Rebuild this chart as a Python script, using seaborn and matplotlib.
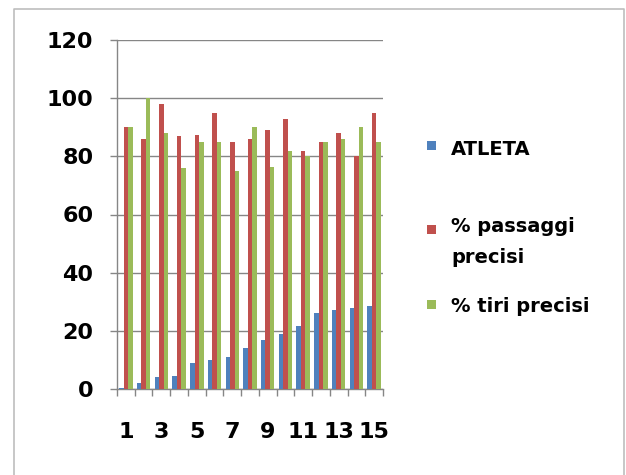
import matplotlib
matplotlib.use("Agg")
import matplotlib.pyplot as plt
import seaborn as sns
import pandas as pd
import numpy as np

categories = list(range(1, 16))
atleta = [0.5, 2, 4, 4.5, 9, 10, 11, 14, 17, 19, 21.6, 26, 27, 28, 28.6]
passaggi = [90, 86, 98, 87, 87.5, 95, 85, 86, 89, 93, 82, 85, 88, 80, 95]
tiri = [90, 100, 88, 76, 85, 85, 75, 90, 76.5, 82, 80, 85, 86, 90, 85]
series_names = ["ATLETA", "% passaggi precisi", "% tiri precisi"]
legend_labels = ["ATLETA", "% passaggi\nprecisi", "% tiri precisi"]
colors = ["#4F81BD", "#C0504D", "#9BBB59"]
y_ticks = [0, 20, 40, 60, 80, 100, 120]

df = pd.DataFrame({
    "cat": categories * 3,
    "val": atleta + passaggi + tiri,
    "series": [series_names[0]] * 15 + [series_names[1]] * 15 + [series_names[2]] * 15,
})

sns.set_theme(style="white")
plt.rcParams["font.family"] = ["DejaVu Sans"]
plt.rcParams["text.color"] = "black"
plt.rcParams["xtick.color"] = "black"
plt.rcParams["ytick.color"] = "black"

fig = plt.figure(figsize=(6.26, 4.75), dpi=100)
fig.patch.set_facecolor("white")

# chart frame (open at the bottom edge of the image)
W, H = 626, 475
frame_x0, frame_x1, frame_y0 = 14 / W, 623.5 / W, 1 - 9 / H
fig.add_artist(plt.Line2D([frame_x0, frame_x0, frame_x1, frame_x1],
                          [-0.01, frame_y0, frame_y0, -0.01],
                          transform=fig.transFigure, color="#BDBDBD", linewidth=1.2))

ax = fig.add_axes([117 / W, 1 - 389 / H, 266 / W, 349 / H])
sns.barplot(data=df, x="cat", y="val", hue="series", palette=colors, width=0.76,
            saturation=1, ax=ax, legend=False, errorbar=None, zorder=3, linewidth=0)

ax.set_ylim(0, 120)
ax.set_yticks(y_ticks)
ax.set_yticklabels([str(t) for t in y_ticks], fontsize=16, fontweight="bold", color="black")
ax.yaxis.grid(True, color="#868686", linewidth=1.0, zorder=0)
ax.set_axisbelow(True)
ax.set_xlim(-0.5, 14.5)

ax.set_xticks(range(0, 15, 2))
ax.set_xticklabels([str(c) for c in categories[::2]], fontsize=16, fontweight="bold", color="black")
ax.set_xticks(np.arange(-0.5, 15, 1), minor=True)
ax.tick_params(axis="x", which="major", length=0, pad=24)
ax.tick_params(axis="x", which="minor", length=5, color="#868686", width=1, bottom=True)
ax.tick_params(axis="y", which="major", length=5, color="#868686", width=1, left=True, pad=12)
ax.set_xlabel("")
ax.set_ylabel("")

for s in ["top", "right"]:
    ax.spines[s].set_visible(False)
for s in ["left", "bottom"]:
    ax.spines[s].set_color("#868686")
    ax.spines[s].set_linewidth(1.0)

# legend entries down the right side: (baseline y in px, square centre y in px)
legend_pos = [(155, 145), (232, 229.5), (312, 304.5)]
for label, (base_y, sq_y), col in zip(legend_labels, legend_pos, colors):
    fig.add_artist(plt.Rectangle((427 / W, 1 - (sq_y + 4.5) / H), 9 / W, 9 / H,
                                 transform=fig.transFigure, facecolor=col, edgecolor="none"))
    for k, line in enumerate(label.split("\n")):
        fig.text(451 / W, 1 - (base_y + 31 * k) / H, line, fontsize=14, fontweight="bold",
                 va="baseline", ha="left", color="black")

fig.savefig("out.png", dpi=100, facecolor="white")
